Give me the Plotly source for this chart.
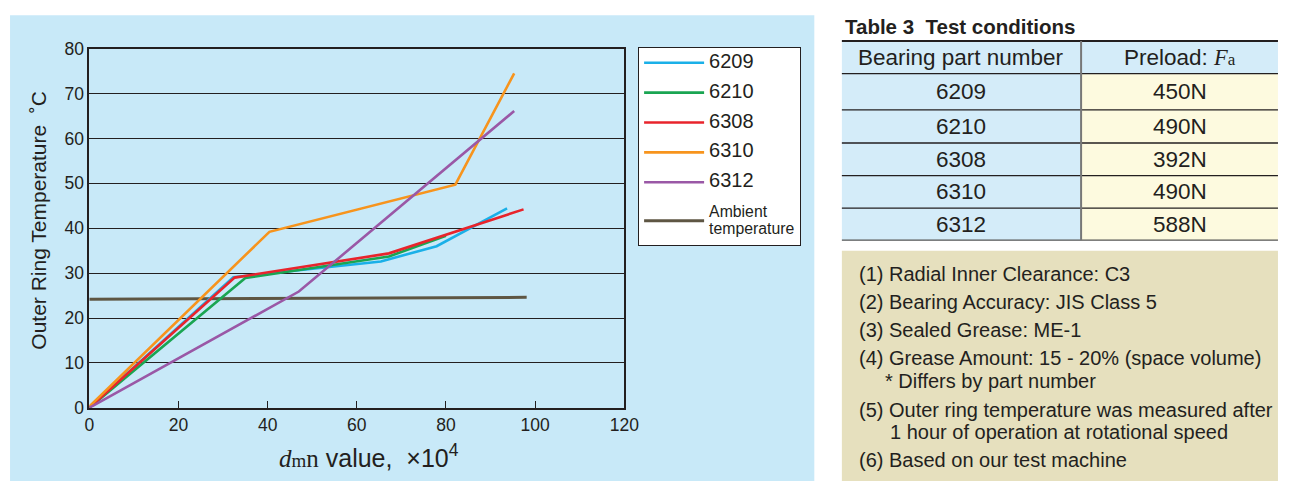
import plotly.graph_objects as go

# The page body keeps its default 8px margin, so the figure is 16px smaller
# than the 1299x489 window and every layout coordinate is shifted by 8px.
WIN_W, WIN_H = 1299, 489
OFF = 8
W, H = WIN_W - 2 * OFF, WIN_H - 2 * OFF

# ---------------- data ----------------
series_names = ["6209", "6210", "6308", "6310", "6312"]
series_colors = ["#1ab0e8", "#1aa552", "#e8242c", "#f7941d", "#9a58a6"]
x_6209 = [0, 32.3, 65.4, 77.9, 93.7]
y_6209 = [0, 29.1, 32.6, 36.0, 44.4]
x_6210 = [0, 35.0, 67.2, 80.0]
y_6210 = [0, 28.9, 33.7, 38.3]
x_6308 = [0, 32.6, 67.2, 97.4]
y_6308 = [0, 29.0, 34.4, 44.2]
x_6310 = [0, 40.4, 82.1, 95.3]
y_6310 = [0.3, 39.2, 49.7, 74.5]
x_6312 = [0, 47.0, 95.3]
y_6312 = [0, 25.9, 66.1]
x_ambient = [0, 98.1]
y_ambient = [24.2, 24.6]

x_ticks = [0, 20, 40, 60, 80, 100, 120]
y_ticks = [0, 10, 20, 30, 40, 50, 60, 70, 80]

table_parts = ["6209", "6210", "6308", "6310", "6312"]
table_preloads = ["450N", "490N", "392N", "490N", "588N"]

notes = [
    "(1) Radial Inner Clearance: C3",
    "(2) Bearing Accuracy: JIS Class 5",
    "(3) Sealed Grease: ME-1",
    "(4) Grease Amount: 15 - 20% (space volume)",
    "* Differs by part number",
    "(5) Outer ring temperature was measured after",
    "1 hour of operation at rotational speed",
    "(6) Based on our test machine",
]

FONT = "Liberation Sans, Arial, sans-serif"
SERIF = "Liberation Serif, Times New Roman, serif"
TXT = "#231f20"


def px(x):
    return (x - OFF) / W


def py(y):
    return (WIN_H - OFF - y) / H


fig = go.Figure()

fig.add_trace(go.Scatter(
    x=x_ambient, y=y_ambient, mode="lines",
    name="<span style='font-size:15.8px'>Ambient<br>temperature</span>",
    line=dict(color="#5e5643", width=3), legendrank=6, legendgroup="amb"))

xs = [x_6209, x_6210, x_6308, x_6310, x_6312]
ys = [y_6209, y_6210, y_6308, y_6310, y_6312]
for i, (n, c, xv, yv) in enumerate(zip(series_names, series_colors, xs, ys)):
    fig.add_trace(go.Scatter(
        x=xv, y=yv, mode="lines",
        name=f"<span style='font-size:20px'>{n}</span>",
        line=dict(color=c, width=2.6), legendrank=i + 1, legendgroup=n))

shapes = []
annotations = []

# left light-blue panel
shapes.append(dict(type="rect", xref="paper", yref="paper",
                   x0=px(5), x1=px(822), y0=py(492), y1=py(5),
                   fillcolor="#c8e9f8", line=dict(width=0), layer="below"))

# ---------------- table ----------------
tl, tm, tr = 850, 1093, 1293
row_edges = [32, 66, 104, 138.5, 172.5, 206.5, 240]
cell_blue = "#d4ecf9"
cell_yellow = "#fdfadf"
shapes.append(dict(type="rect", xref="paper", yref="paper",
                   x0=px(tl), x1=px(tr), y0=py(row_edges[1]), y1=py(row_edges[0]),
                   fillcolor=cell_blue, line=dict(width=0), layer="below"))
for r in range(5):
    shapes.append(dict(type="rect", xref="paper", yref="paper",
                       x0=px(tl), x1=px(tm), y0=py(row_edges[r + 2]), y1=py(row_edges[r + 1]),
                       fillcolor=cell_blue, line=dict(width=0), layer="below"))
    shapes.append(dict(type="rect", xref="paper", yref="paper",
                       x0=px(tm), x1=px(tr), y0=py(row_edges[r + 2]), y1=py(row_edges[r + 1]),
                       fillcolor=cell_yellow, line=dict(width=0), layer="below"))
for k, ye in enumerate(row_edges):
    wdt = 2 if k == 0 else 1.3
    col = "#231f20" if k != 6 else "#555555"
    shapes.append(dict(type="line", xref="paper", yref="paper",
                       x0=px(tl), x1=px(tr), y0=py(ye), y1=py(ye),
                       line=dict(color=col, width=wdt)))
shapes.append(dict(type="line", xref="paper", yref="paper",
                   x0=px(tm), x1=px(tm), y0=py(row_edges[-1]), y1=py(row_edges[0]),
                   line=dict(color="#777777", width=2)))

annotations.append(dict(xref="paper", yref="paper", x=px(851), y=py(17),
                        xanchor="left", yanchor="middle", showarrow=False,
                        text="<b>Table 3  Test conditions</b>",
                        font=dict(family=FONT, size=20.5, color=TXT)))
annotations.append(dict(xref="paper", yref="paper", x=px((tl + tm) / 2), y=py(49),
                        xanchor="center", yanchor="middle", showarrow=False,
                        text="Bearing part number",
                        font=dict(family=FONT, size=22.5, color=TXT)))
annotations.append(dict(xref="paper", yref="paper", x=px((tm + tr) / 2), y=py(49),
                        xanchor="center", yanchor="middle", showarrow=False,
                        text=f"Preload: <span style='font-family:{SERIF}'><i>F</i><span style='font-size:17px'>a</span></span>",
                        font=dict(family=FONT, size=22.5, color=TXT)))
for r in range(5):
    yc = (row_edges[r + 1] + row_edges[r + 2]) / 2
    annotations.append(dict(xref="paper", yref="paper", x=px((tl + tm) / 2), y=py(yc),
                            xanchor="center", yanchor="middle", showarrow=False,
                            text=table_parts[r], font=dict(family=FONT, size=22.5, color=TXT)))
    annotations.append(dict(xref="paper", yref="paper", x=px((tm + tr) / 2), y=py(yc),
                            xanchor="center", yanchor="middle", showarrow=False,
                            text=table_preloads[r], font=dict(family=FONT, size=22.5, color=TXT)))

# ---------------- notes box ----------------
shapes.append(dict(type="rect", xref="paper", yref="paper",
                   x0=px(850), x1=px(1293), y0=py(492), y1=py(251),
                   fillcolor="#e6e0be", line=dict(width=0), layer="below"))
note_y = [275, 305, 334, 363, 387, 417, 440, 470]
note_x = [865, 865, 865, 865, 892, 865, 897, 865]
for t, yy, xx in zip(notes, note_y, note_x):
    annotations.append(dict(xref="paper", yref="paper", x=px(xx), y=py(yy),
                            xanchor="left", yanchor="middle", showarrow=False,
                            text=t, font=dict(family=FONT, size=20, color=TXT)))

# ---------------- axis titles ----------------
annotations.append(dict(xref="paper", yref="paper", x=px(370), y=py(465),
                        xanchor="center", yanchor="middle", showarrow=False,
                        text=(f"<span style='font-family:{SERIF}'><i>d</i>"
                              f"<span style='font-size:19px'>m</span>n</span> value,  ×10<sup>4</sup>"),
                        font=dict(family=FONT, size=25, color=TXT)))
annotations.append(dict(xref="paper", yref="paper", x=px(33), y=py(219),
                        xanchor="center", yanchor="middle", showarrow=False,
                        textangle=-90,
                        text="Outer Ring Temperature  ˚C",
                        font=dict(family=FONT, size=21, color=TXT)))

fig.update_layout(
    width=W, height=H,
    margin=dict(l=0, r=0, t=0, b=0, pad=0),
    paper_bgcolor="white",
    plot_bgcolor="white",
    font=dict(family=FONT, color=TXT),
    shapes=shapes,
    annotations=annotations,
    showlegend=True,
    legend=dict(x=px(643), y=py(38), xanchor="left", yanchor="top",
                bgcolor="white", bordercolor="#231f20", borderwidth=1,
                font=dict(family=FONT, size=13, color=TXT),
                tracegroupgap=10, itemwidth=60, valign="middle"),
    xaxis=dict(domain=[px(85.5), px(629)], range=[0, 120], tickvals=x_ticks,
               ticks="inside", ticklen=7, tickcolor="#231f20", tickwidth=1.2,
               showgrid=False, zeroline=False, showline=True, mirror=True,
               linecolor="#231f20", linewidth=1.5,
               tickfont=dict(family=FONT, size=17.5, color=TXT), fixedrange=True),
    yaxis=dict(domain=[py(415), py(40)], range=[0, 80], tickvals=y_ticks,
               ticks="", showgrid=True, gridcolor="#231f20", gridwidth=1.2,
               zeroline=False, showline=True, mirror=True,
               linecolor="#231f20", linewidth=1.5,
               tickfont=dict(family=FONT, size=17.5, color=TXT), fixedrange=True),
)

fig.write_html("out.html")
